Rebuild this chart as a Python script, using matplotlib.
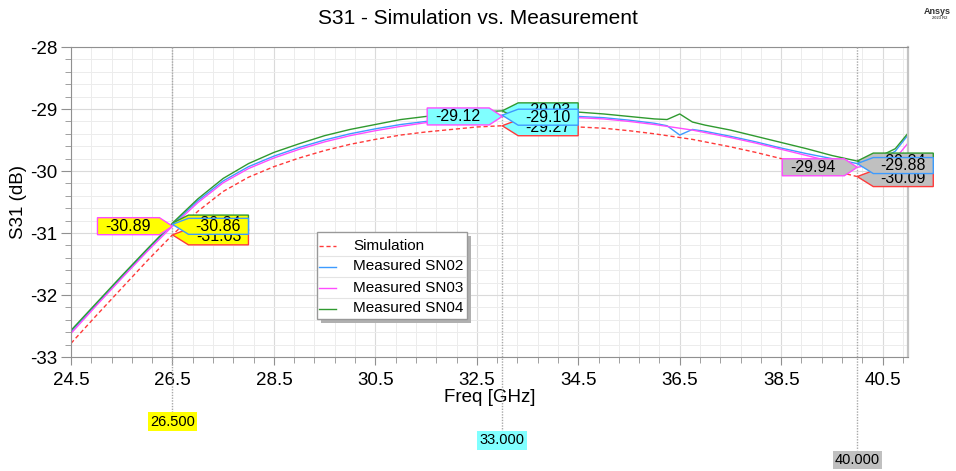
import numpy as np
import matplotlib.pyplot as plt
from matplotlib.lines import Line2D
from matplotlib.patches import Polygon, Rectangle
from matplotlib.ticker import FixedLocator, MultipleLocator
from matplotlib.transforms import IdentityTransform

plt.rcParams['font.family'] = ['Liberation Sans', 'DejaVu Sans']
plt.rcParams['axes.unicode_minus'] = False

# S31 traces, dB vs GHz
freq = [24.5, 25.0, 25.5, 26.0, 26.5, 27.0, 27.5, 28.0, 28.5, 29.0, 29.5, 30.0,
        30.5, 31.0, 31.5, 32.0, 32.5, 33.0, 33.5, 34.0, 34.5, 35.0, 35.5, 36.0,
        36.25, 36.5, 36.75, 37.0, 37.5, 38.0, 38.5, 39.0, 39.5, 40.0, 40.5,
        40.75, 41.0]
sim = [-32.78, -32.33, -31.89, -31.45, -31.03, -30.65, -30.33, -30.10, -29.93,
       -29.79, -29.67, -29.57, -29.49, -29.42, -29.37, -29.33, -29.29, -29.27,
       -29.26, -29.27, -29.29, -29.31, -29.35, -29.40, -29.43, -29.46, -29.49,
       -29.53, -29.61, -29.70, -29.80, -29.90, -29.99, -30.09, -30.12, -30.13,
       -30.14]
sn02 = [-32.59, -32.15, -31.71, -31.28, -30.86, -30.48, -30.16, -29.93, -29.76,
        -29.62, -29.50, -29.40, -29.32, -29.25, -29.20, -29.16, -29.12, -29.10,
        -29.09, -29.10, -29.12, -29.14, -29.18, -29.23, -29.27, -29.42, -29.33,
        -29.36, -29.44, -29.53, -29.63, -29.72, -29.80, -29.88, -29.80, -29.68,
        -29.42]
sn03 = [-32.62, -32.17, -31.73, -31.30, -30.89, -30.51, -30.19, -29.96, -29.79,
        -29.65, -29.53, -29.43, -29.35, -29.28, -29.22, -29.18, -29.14, -29.12,
        -29.11, -29.12, -29.14, -29.16, -29.20, -29.25, -29.28, -29.31, -29.34,
        -29.38, -29.46, -29.55, -29.65, -29.75, -29.85, -29.94, -29.87, -29.80,
        -29.55]
sn04 = [-32.57, -32.13, -31.69, -31.26, -30.84, -30.45, -30.12, -29.88, -29.70,
        -29.56, -29.43, -29.33, -29.25, -29.17, -29.12, -29.08, -29.05, -29.03,
        -29.02, -29.03, -29.05, -29.08, -29.12, -29.16, -29.17, -29.08, -29.21,
        -29.26, -29.34, -29.44, -29.54, -29.64, -29.75, -29.84, -29.74, -29.64,
        -29.39]

labels = ['Simulation', 'Measured SN02', 'Measured SN03', 'Measured SN04']
colors = ['#ff3a3a', '#3d9bff', '#ff4cff', '#2f9a2f']

marker_freqs = [26.5, 33.0, 40.0]
marker_colors = ['#ffff00', '#80ffff', '#c0c0c0']

W, H = 956, 471
fig = plt.figure(figsize=(W / 100, H / 100), dpi=100)
ax = fig.add_axes([71 / W, 1 - 357 / H, 837 / W, 310 / H])
ax.set_xlim(24.5, 41.0)
ax.set_ylim(-33, -28)

ax.plot(freq, sim, color=colors[0], lw=1, dashes=(3, 2))
ax.plot(freq, sn02, color=colors[1], lw=1)
ax.plot(freq, sn03, color=colors[2], lw=1)
ax.plot(freq, sn04, color=colors[3], lw=1)

ax.set_xticks(np.arange(24.5, 41, 2.0))
ax.set_xticklabels([f'{t:.1f}' for t in np.arange(24.5, 41, 2.0)])
ax.set_yticks(range(-33, -27))
ax.xaxis.set_minor_locator(FixedLocator(np.arange(24.5, 41.01, 0.4)))
ax.yaxis.set_minor_locator(MultipleLocator(0.2))
ax.grid(which='major', color='#dadada', lw=0.8)
ax.grid(which='minor', color='#ececec', lw=0.7)
ax.set_axisbelow(True)
ax.tick_params(axis='both', which='both', colors='#909090', labelcolor='black',
               labelsize=13.5, direction='out')
ax.tick_params(axis='y', which='major', length=7, pad=3)
ax.tick_params(axis='y', which='minor', length=4)
ax.tick_params(axis='x', which='major', length=6, pad=5)
ax.tick_params(axis='x', which='minor', length=4)
for side in ['top', 'bottom', 'left', 'right']:
    ax.spines[side].set_color('#909090')
ax.spines['right'].set_color('#c4c4c4')
ax.spines['right'].set_linewidth(1.6)

ax.set_xlabel('Freq [GHz]', fontsize=13.5)
ax.xaxis.set_label_coords(0.5, -0.103)
ax.set_ylabel('S31 (dB)', fontsize=13.5)
ax.yaxis.set_label_coords(-0.052, 0.5)

fig.text(0.5, 1 - 18 / H, 'S31 - Simulation vs. Measurement', ha='center',
         va='center', fontsize=15)
fig.text(937, H - 11, 'Ansys', transform=IdentityTransform(), ha='center',
         va='center', fontsize=6.5, fontweight='bold', color='#333333')
fig.text(940, H - 18, '2023 R2', transform=IdentityTransform(), ha='center',
         va='center', fontsize=3, fontweight='bold', color='#555555')

ident = IdentityTransform()


def to_img(f, v):
    x, y = ax.transData.transform((f, v))
    return x, H - y


def callout(px, py, side, text, face, edge, shift=0.0, z=5):
    yc = py + shift
    if side == 'left':
        right = px - 13
        left = right - 62
        top, bot = yc - 8.5, yc + 8.5
        pts = [(left, top), (right, top), (px, py), (right, bot), (left, bot)]
    else:
        left = px + 16
        right = left + 60
        top, bot = yc - 8, yc + 8
        pts = [(px, py), (left, top), (right, top), (right, bot), (left, bot)]
    poly = Polygon([(x, H - y) for x, y in pts], closed=True, transform=ident,
                   facecolor=face, edgecolor=edge, lw=1, zorder=z)
    fig.add_artist(poly)
    fig.text((left + right) / 2, H - yc, text, transform=ident, ha='center',
             va='center', fontsize=11.5, zorder=z + 0.5)


label_y = [421.5, 440.5, 460]
for i, (mf, mc) in enumerate(zip(marker_freqs, marker_colors)):
    k = freq.index(mf)
    px, _ = to_img(mf, -28)
    # vertical marker line down to its frequency tag
    fig.add_artist(Line2D([px, px], [H - 47, H - (label_y[i] - 10)],
                          transform=ident, color='#a8a8a8', lw=1,
                          dashes=(1, 1), zorder=1))
    fig.text(px, H - label_y[i], f'{mf:.3f}', transform=ident, ha='center',
             va='center', fontsize=10.5,
             bbox=dict(boxstyle='square,pad=0.15', fc=mc, ec='none'))
    # value tags: SN03 on the left, the rest stacked on the right
    x3, y3 = to_img(mf, sn03[k])
    callout(x3, y3, 'left', f'{sn03[k]:.2f}', mc, colors[2], z=6)
    xg, yg = to_img(mf, sn04[k])
    callout(xg, yg, 'right', f'{sn04[k]:.2f}', mc, colors[3], z=5)
    xr, yr = to_img(mf, sim[k])
    callout(xr, yr, 'right', f'{sim[k]:.2f}', mc, colors[0], shift=2, z=6)
    xb, yb = to_img(mf, sn02[k])
    callout(xb, yb, 'right', f'{sn02[k]:.2f}', mc, colors[1], shift=2, z=7)

# legend box with drop shadow and row separators
lx0, ly0, lx1, ly1 = 316.5, 232, 467, 319
fig.add_artist(Rectangle((lx0 + 4, H - ly1 - 4), lx1 - lx0, ly1 - ly0,
                         transform=ident, fc='#b0b0b0', ec='none', zorder=8))
fig.add_artist(Rectangle((lx0, H - ly1), lx1 - lx0, ly1 - ly0, transform=ident,
                         fc='white', ec='#999999', lw=1, zorder=9))
for j, (lab, col) in enumerate(zip(labels, colors)):
    yc = 245.5 + 21 * j
    if j > 0:
        fig.add_artist(Line2D([lx0 + 1, lx1 - 1], [H - (yc - 10.5)] * 2,
                              transform=ident, color='#e4e4e4', lw=0.8,
                              zorder=9.5))
    fig.add_artist(Line2D([319, 336], [H - yc, H - yc], transform=ident,
                          color=col, lw=1, dashes=(3, 2) if j == 0 else (None, None),
                          zorder=10))
    fig.text(353, H - yc, lab, transform=ident, ha='left', va='center',
             fontsize=11, zorder=10)

fig.savefig('out.png', dpi=100)
